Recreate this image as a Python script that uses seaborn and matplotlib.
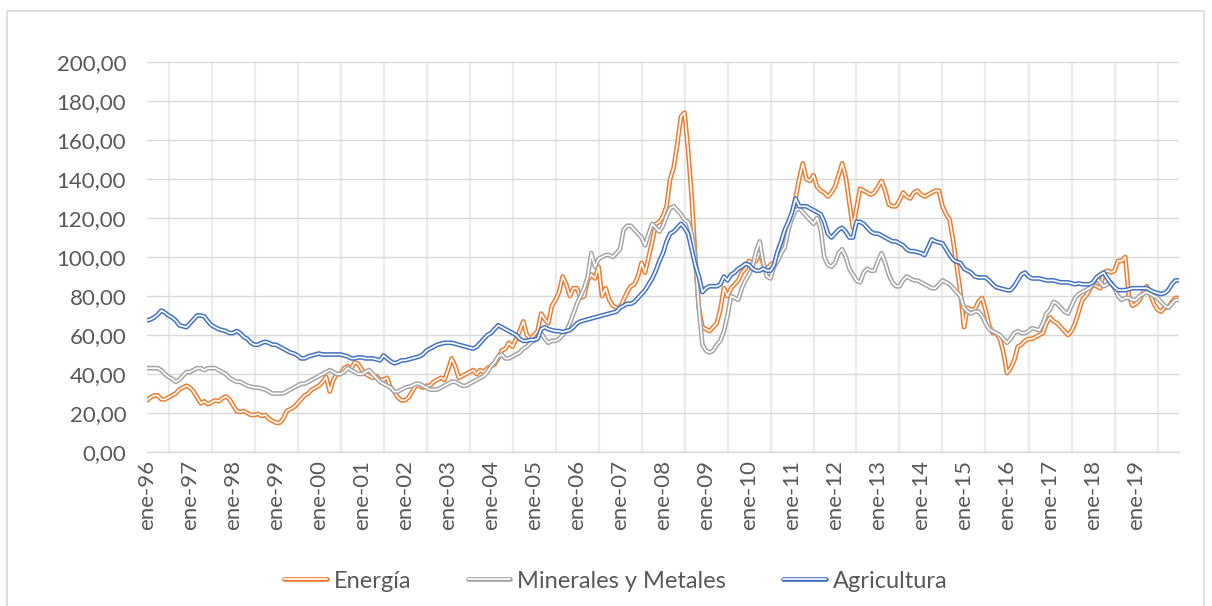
import numpy as np
import pandas as pd
import seaborn as sns
import matplotlib
matplotlib.use("Agg")
import matplotlib.pyplot as plt
import matplotlib.patheffects as pe
from matplotlib.lines import Line2D
from matplotlib.patches import Rectangle
from matplotlib.ticker import FixedLocator, MultipleLocator, FuncFormatter

# monthly index values, ene-96 .. ene-20 (one row per year)
energia = [
    26.5, 28, 29, 29, 27, 27, 28, 29, 30, 32, 33, 34,          # 1996
    33, 31, 28, 25, 26, 24.5, 25.5, 26.5, 26, 27.5, 28.5, 27,  # 1997
    24, 21, 20.5, 21, 20, 19, 19, 19.5, 18.5, 19, 17, 16,      # 1998
    15, 15, 17, 21, 22, 23, 25, 27, 29, 30, 32, 33,            # 1999
    34, 36, 38.5, 31, 37, 40, 40, 43, 44, 43, 46, 45,          # 2000
    42, 40, 39, 38, 39, 37, 37, 38, 33, 31, 28, 26.5,          # 2001
    26.5, 28, 31, 34, 34, 33, 34, 34, 36, 37, 38, 37,          # 2002
    42, 48, 44, 38, 39, 40, 41, 42, 40, 42, 41, 43,            # 2003
    44, 45, 48, 52, 53, 56, 54, 58, 62, 67, 60, 58,            # 2004
    60, 62, 71, 68, 66, 75, 78, 82, 90, 86, 80, 84,            # 2005
    84, 79, 80, 88, 91, 89, 95, 80, 84, 78, 75, 74,            # 2006
    74, 78, 82, 85, 86, 90, 97, 92, 100, 108, 117, 118,        # 2007
    121, 126, 140, 146, 158, 172, 174, 155, 131, 100, 74, 64,  # 2008
    63, 62, 64, 66, 73, 84, 80, 84, 86, 88, 92, 94,            # 2009
    98, 97, 98, 103, 96, 94, 96, 97, 99, 103, 108, 115,        # 2010
    122, 130, 140, 148, 140, 139, 142, 136, 134, 133, 131, 133,  # 2011
    136, 142, 148, 141, 128, 115, 125, 135, 134, 133, 132, 133,  # 2012
    136, 139, 134, 127, 126, 126, 129, 133, 131, 130, 133, 134,  # 2013
    132, 131, 132, 133, 134, 134, 126, 122, 119, 108, 95, 82,    # 2014
    64, 74, 73, 73, 77, 79, 73, 65, 61, 61, 58, 51,            # 2015
    40.5, 43, 47, 54, 55, 57, 58, 58, 59, 60, 61, 66,          # 2016
    69, 67, 66, 64, 62, 60, 62, 66, 72, 78, 80, 83,            # 2017
    86, 85, 84, 92, 93, 92, 93, 98, 98, 100, 80, 75,           # 2018
    76, 78, 82, 85, 81, 76, 73, 72, 74, 74, 77, 79,            # 2019
    79,                                                        # 2020
]

minerales = [
    43, 43, 43, 43, 42, 40, 38.5, 37.5, 36, 37, 39, 41,        # 1996
    41, 42, 43, 43, 42, 43, 43, 43, 42, 41, 40, 38,            # 1997
    37, 36, 36, 35, 34, 33.5, 33, 33, 32.5, 32, 31, 30,        # 1998
    30, 30, 30, 31, 32, 33, 34, 35, 35, 36, 37, 38,            # 1999
    39, 40, 41, 42, 41, 40, 40, 41, 43, 42, 41, 40,            # 2000
    40, 41, 42, 40, 38, 36, 35, 34, 33, 31, 31, 32,            # 2001
    33, 33.5, 34, 35, 35, 34, 33, 32, 32, 32, 33, 34,          # 2002
    35, 36, 36, 35, 34, 34, 35, 36, 37, 38, 39, 41,            # 2003
    44, 46, 49, 50, 48, 48, 49, 50, 51, 53, 54, 56,            # 2004
    57, 59, 61, 58, 56, 57, 57, 58, 60, 62, 66, 71,            # 2005
    76, 80, 84, 90, 102, 95, 99, 100, 101, 101, 100, 102,      # 2006
    104, 114, 116, 116, 114, 112, 110, 106, 112, 117, 115, 113,  # 2007
    116, 121, 125, 126, 124, 122, 119, 118, 112, 100, 74, 55,  # 2008
    52, 51, 52, 55, 57, 62, 70, 80, 79, 78, 84, 88,            # 2009
    91, 95, 103, 108, 97, 90, 89, 95, 98, 102, 105, 114,       # 2010
    120, 124, 125, 123, 121, 119, 117, 120, 114, 100, 96, 95,  # 2011
    97, 102, 104, 100, 94, 91, 88, 87, 92, 94, 93, 93,         # 2012
    98, 102, 97, 91, 87, 85, 85, 88, 90, 89, 88, 88,           # 2013
    87, 86, 85, 84, 84, 86, 88, 87, 86, 84, 82, 80,            # 2014
    74, 72, 71, 72, 72, 70, 66, 63, 62, 61, 60, 58,            # 2015
    56, 58, 61, 62, 61, 61, 62, 63.5, 63, 62.5, 66, 71,        # 2016
    73, 77, 76, 74, 72, 71, 75, 79, 81, 82, 83, 84,            # 2017
    86, 89, 87, 85, 86, 87, 84, 80, 78, 79, 79, 78,            # 2018
    78, 80, 81, 82, 81, 80, 79, 77, 75, 74, 76, 78,            # 2019
    78,                                                        # 2020
]

agricultura = [
    67.5, 68, 69, 70.5, 72.5, 71.5, 70, 69, 67.5, 65, 64.5, 64,  # 1996
    66, 68, 70, 70, 69.5, 67, 65, 64, 63, 62.5, 62, 61,        # 1997
    61, 62, 61, 59, 58, 56, 55, 55, 56, 56.5, 56, 55,          # 1998
    55, 54, 53, 52, 51, 50.5, 49.5, 48, 48, 49, 49.5, 50,      # 1999
    50.5, 50, 50, 50, 50, 50, 50, 49.5, 49, 48, 48, 48.5,      # 2000
    48.5, 48, 48, 48, 47.5, 47, 49.5, 48, 46.5, 45.5, 46, 47,  # 2001
    47, 47.5, 48, 48.5, 49, 50, 52, 53, 54, 55, 55.5, 56,      # 2002
    56, 56, 55.5, 55, 54.5, 54, 53.5, 53, 54, 56, 58, 60,      # 2003
    61, 63, 65, 64, 63, 62, 61, 60, 58, 57, 57, 57.5,          # 2004
    57.5, 58, 63, 64, 63, 62.5, 62, 62, 61.5, 62, 62.5, 64,    # 2005
    66, 67, 67.5, 68, 68.5, 69, 69.5, 70, 70.5, 71, 71.5, 72,  # 2006
    74, 75, 76, 76, 77, 79, 81, 83, 86, 89, 93, 98,            # 2007
    102, 108, 112, 113, 115, 117, 115, 112, 104, 96, 90, 82,   # 2008
    84, 85, 85, 85, 86, 90, 88, 91, 92, 94, 95, 96.5,          # 2009
    96, 94, 93, 93, 94, 93, 93, 96, 103, 108, 114, 118,        # 2010
    123, 130, 126, 126, 126, 125, 124, 123, 122, 118, 112, 110,  # 2011
    112, 114, 115, 113, 110, 110, 118, 118, 117, 115, 113, 112,  # 2012
    112, 111, 110, 109, 108, 108, 107, 106, 104, 103, 103, 102.5,  # 2013
    102, 101, 105, 109, 108, 107.5, 107, 104, 101, 98.5, 97.5, 97,  # 2014
    94, 93, 92, 90, 89.5, 89.5, 89.5, 88, 86, 84.5, 84, 83.5,  # 2015
    83, 83, 85, 88, 91, 92, 90, 89, 89, 89, 88.5, 88,          # 2016
    88, 88, 87.5, 87, 87, 87, 86.5, 86, 86.5, 86, 86, 86,      # 2017
    87, 89.6, 91, 92, 89, 86.5, 84.5, 83, 83, 83, 83.5, 84,    # 2018
    84, 84, 84, 84, 83, 82, 81.5, 81, 81.5, 83, 86, 88,        # 2019
    88,                                                        # 2020
]

series = ["Energía", "Minerales y Metales", "Agricultura"]
colores = ["#ED7D31", "#A5A5A5", "#4472C4"]
anos = [f"{a % 100:02d}" for a in range(1996, 2020)]
etiquetas = ["ene-" + a for a in anos]

meses = np.arange(len(energia))
df = pd.DataFrame({"mes": meses, series[0]: energia,
                   series[1]: minerales, series[2]: agricultura})
df_long = df.melt(id_vars="mes", var_name="serie", value_name="valor")

sns.set_style("white")
plt.rcParams["font.family"] = ["Lato", "DejaVu Sans"]
texto = "#595959"

fig = plt.figure(figsize=(12.12, 6.06), dpi=100)
ax = fig.add_axes([147 / 1212, 1 - 452 / 606, 1032 / 1212, 390 / 606])

sns.lineplot(data=df_long, x="mes", y="valor", hue="serie", hue_order=series,
             palette=colores, errorbar=None, legend=False, ax=ax)

# Excel style double line: colored outline with white core
efecto = lambda c: [pe.Stroke(linewidth=3.4, foreground=c), pe.Normal()]
for line, c in zip(ax.lines, colores):
    line.set_color("white")
    line.set_linewidth(1.2)
    line.set_path_effects(efecto(c))

ax.set_xlim(0, len(energia) - 1)
ax.set_ylim(0, 200)
ax.set_yticks(np.arange(0, 201, 20))
ax.yaxis.set_major_formatter(FuncFormatter(lambda v, p: f"{v:.2f}".replace(".", ",")))
ax.xaxis.set_major_locator(FixedLocator(np.arange(0, len(energia), 12)))
ax.set_xticklabels(etiquetas + [""])
ax.xaxis.set_minor_locator(MultipleLocator(6))

ax.grid(axis="y", which="major", color="#d9d9d9", linewidth=1.0)
ax.grid(axis="x", which="minor", color="#ebebeb", linewidth=1.6)
ax.set_axisbelow(True)
ax.set_xlabel("")
ax.set_ylabel("")

for s in ["top", "right", "left"]:
    ax.spines[s].set_visible(False)
ax.spines["bottom"].set_color("#d9d9d9")
ax.spines["bottom"].set_linewidth(1.0)

ax.tick_params(axis="x", which="major", length=4, width=1, color="#d9d9d9",
               labelsize=16, labelcolor=texto, rotation=90, pad=2)
ax.tick_params(axis="x", which="minor", length=0)
ax.tick_params(axis="y", length=0, labelsize=16, labelcolor=texto, pad=15)

handles = [Line2D([], [], color="white", linewidth=1.2, path_effects=efecto(c))
           for c in colores]
fig.legend(handles, series, loc="center", bbox_to_anchor=(0.508, 0.041), ncol=3,
           frameon=False, fontsize=17, labelcolor=texto, handlelength=1.8,
           handletextpad=0.3, columnspacing=2.4)

# chart area border
fig.patches.append(Rectangle((7 / 1212, -0.02), 1197 / 1212, 1.02 - 11 / 606,
                             transform=fig.transFigure, fill=False,
                             edgecolor="#d9d9d9", linewidth=1.2))

fig.savefig("out.png", dpi=100)
